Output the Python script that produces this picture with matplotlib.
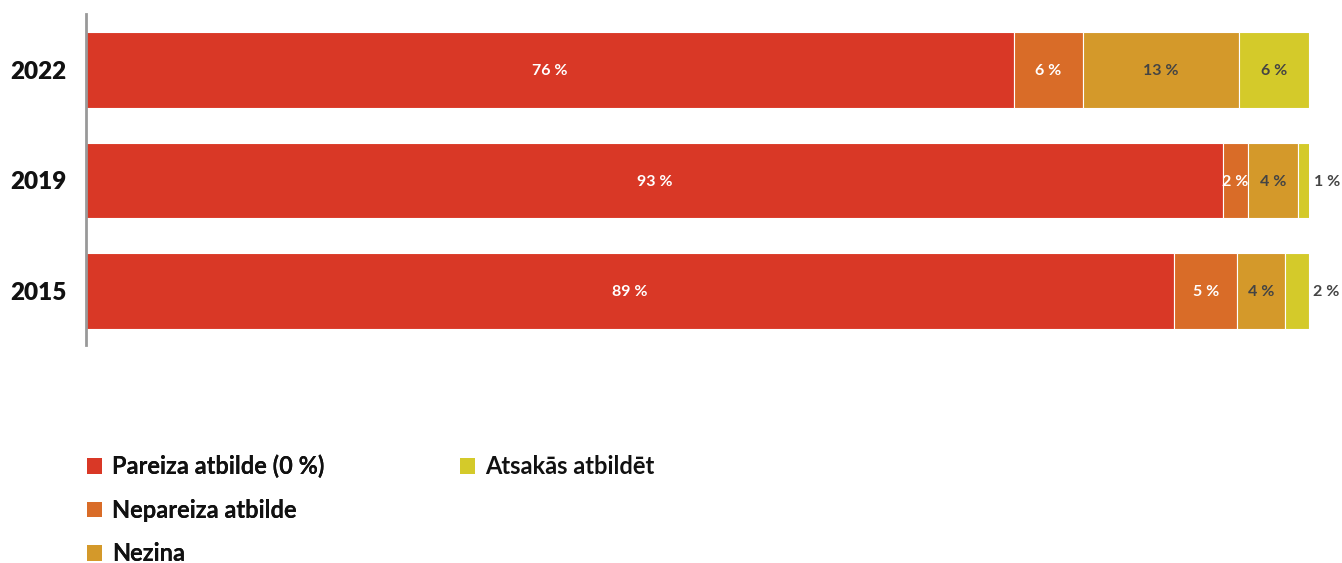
import matplotlib
matplotlib.use("Agg")
import matplotlib.pyplot as plt
from matplotlib.patches import Patch

plt.rcParams['font.family'] = ['Lato', 'DejaVu Sans']
plt.rcParams['font.weight'] = 'bold'

years = ["2015", "2019", "2022"]
series_names = ["Pareiza atbilde (0 %)", "Nepareiza atbilde", "Nezina", "Atsakās atbildēt"]
colors = ["#D93826", "#D96C28", "#D4992A", "#D4CA2A"]
text_colors = ["white", "white", "#444444", "#444444"]
pareiza = [89.0, 93.0, 75.9]
nepareiza = [5.1, 2.0, 5.6]
nezina = [3.9, 4.1, 12.8]
atsakas = [2.0, 1.0, 5.7]
labels = [["89 %", "93 %", "76 %"],
          ["5 %", "2 %", "6 %"],
          ["4 %", "4 %", "13 %"],
          ["2 %", "1 %", "6 %"]]

data = [pareiza, nepareiza, nezina, atsakas]

W, H = 1342, 563
fig = plt.figure(figsize=(W / 100, H / 100), dpi=100)
ax = fig.add_axes([86 / W, 1 - 345 / H, (1309 - 86) / W, (345 - 14) / H])

ypos = list(range(len(years)))
left = [0.0] * len(years)
for s, vals in enumerate(data):
    bars = ax.barh(ypos, vals, left=left, height=0.685, color=colors[s],
                   edgecolor="white", linewidth=0.8, label=series_names[s])
    for i, (b, v) in enumerate(zip(bars, vals)):
        cx = left[i] + v / 2
        if s == 3 and v < 3:
            ax.annotate(labels[s][i], xy=(left[i] + v, i), xytext=(3, 0),
                        textcoords="offset points", ha="left", va="center_baseline",
                        fontsize=11.5, fontweight="bold", color="#444444",
                        annotation_clip=False)
        else:
            ax.text(cx, i, labels[s][i], ha="center", va="center_baseline",
                    fontsize=11.5, fontweight="bold", color=text_colors[s])
    left = [l + v for l, v in zip(left, vals)]

ax.set_xlim(0, 100)
ax.set_ylim(-0.49, 2.507)
ax.set_yticks(ypos)
ax.set_yticklabels(years, fontsize=17.5, fontweight="heavy", color="#111111")
ax.tick_params(axis="y", length=0, pad=14)
ax.set_xticks([])
for sp in ["top", "right", "bottom"]:
    ax.spines[sp].set_visible(False)
ax.spines["left"].set_color("#999999")
ax.spines["left"].set_linewidth(2)

handles = [Patch(facecolor=c, edgecolor="none") for c in colors]
leg_kw = dict(loc="upper left", frameon=False,
              prop={"family": "Lato", "weight": "bold", "size": 17},
              handlelength=0.65, handleheight=0.65, handletextpad=0.42,
              labelspacing=0.86, borderaxespad=0, borderpad=0)
leg1 = fig.legend(handles[:3], series_names[:3],
                  bbox_to_anchor=(87 / W, 1 - 455 / H), **leg_kw)
fig.add_artist(leg1)
leg2 = fig.legend(handles[3:], series_names[3:],
                  bbox_to_anchor=(460 / W, 1 - 455 / H), **leg_kw)
for lg in (leg1, leg2):
    for t in lg.get_texts():
        t.set_color("#111111")

fig.savefig("out.png", dpi=100)
